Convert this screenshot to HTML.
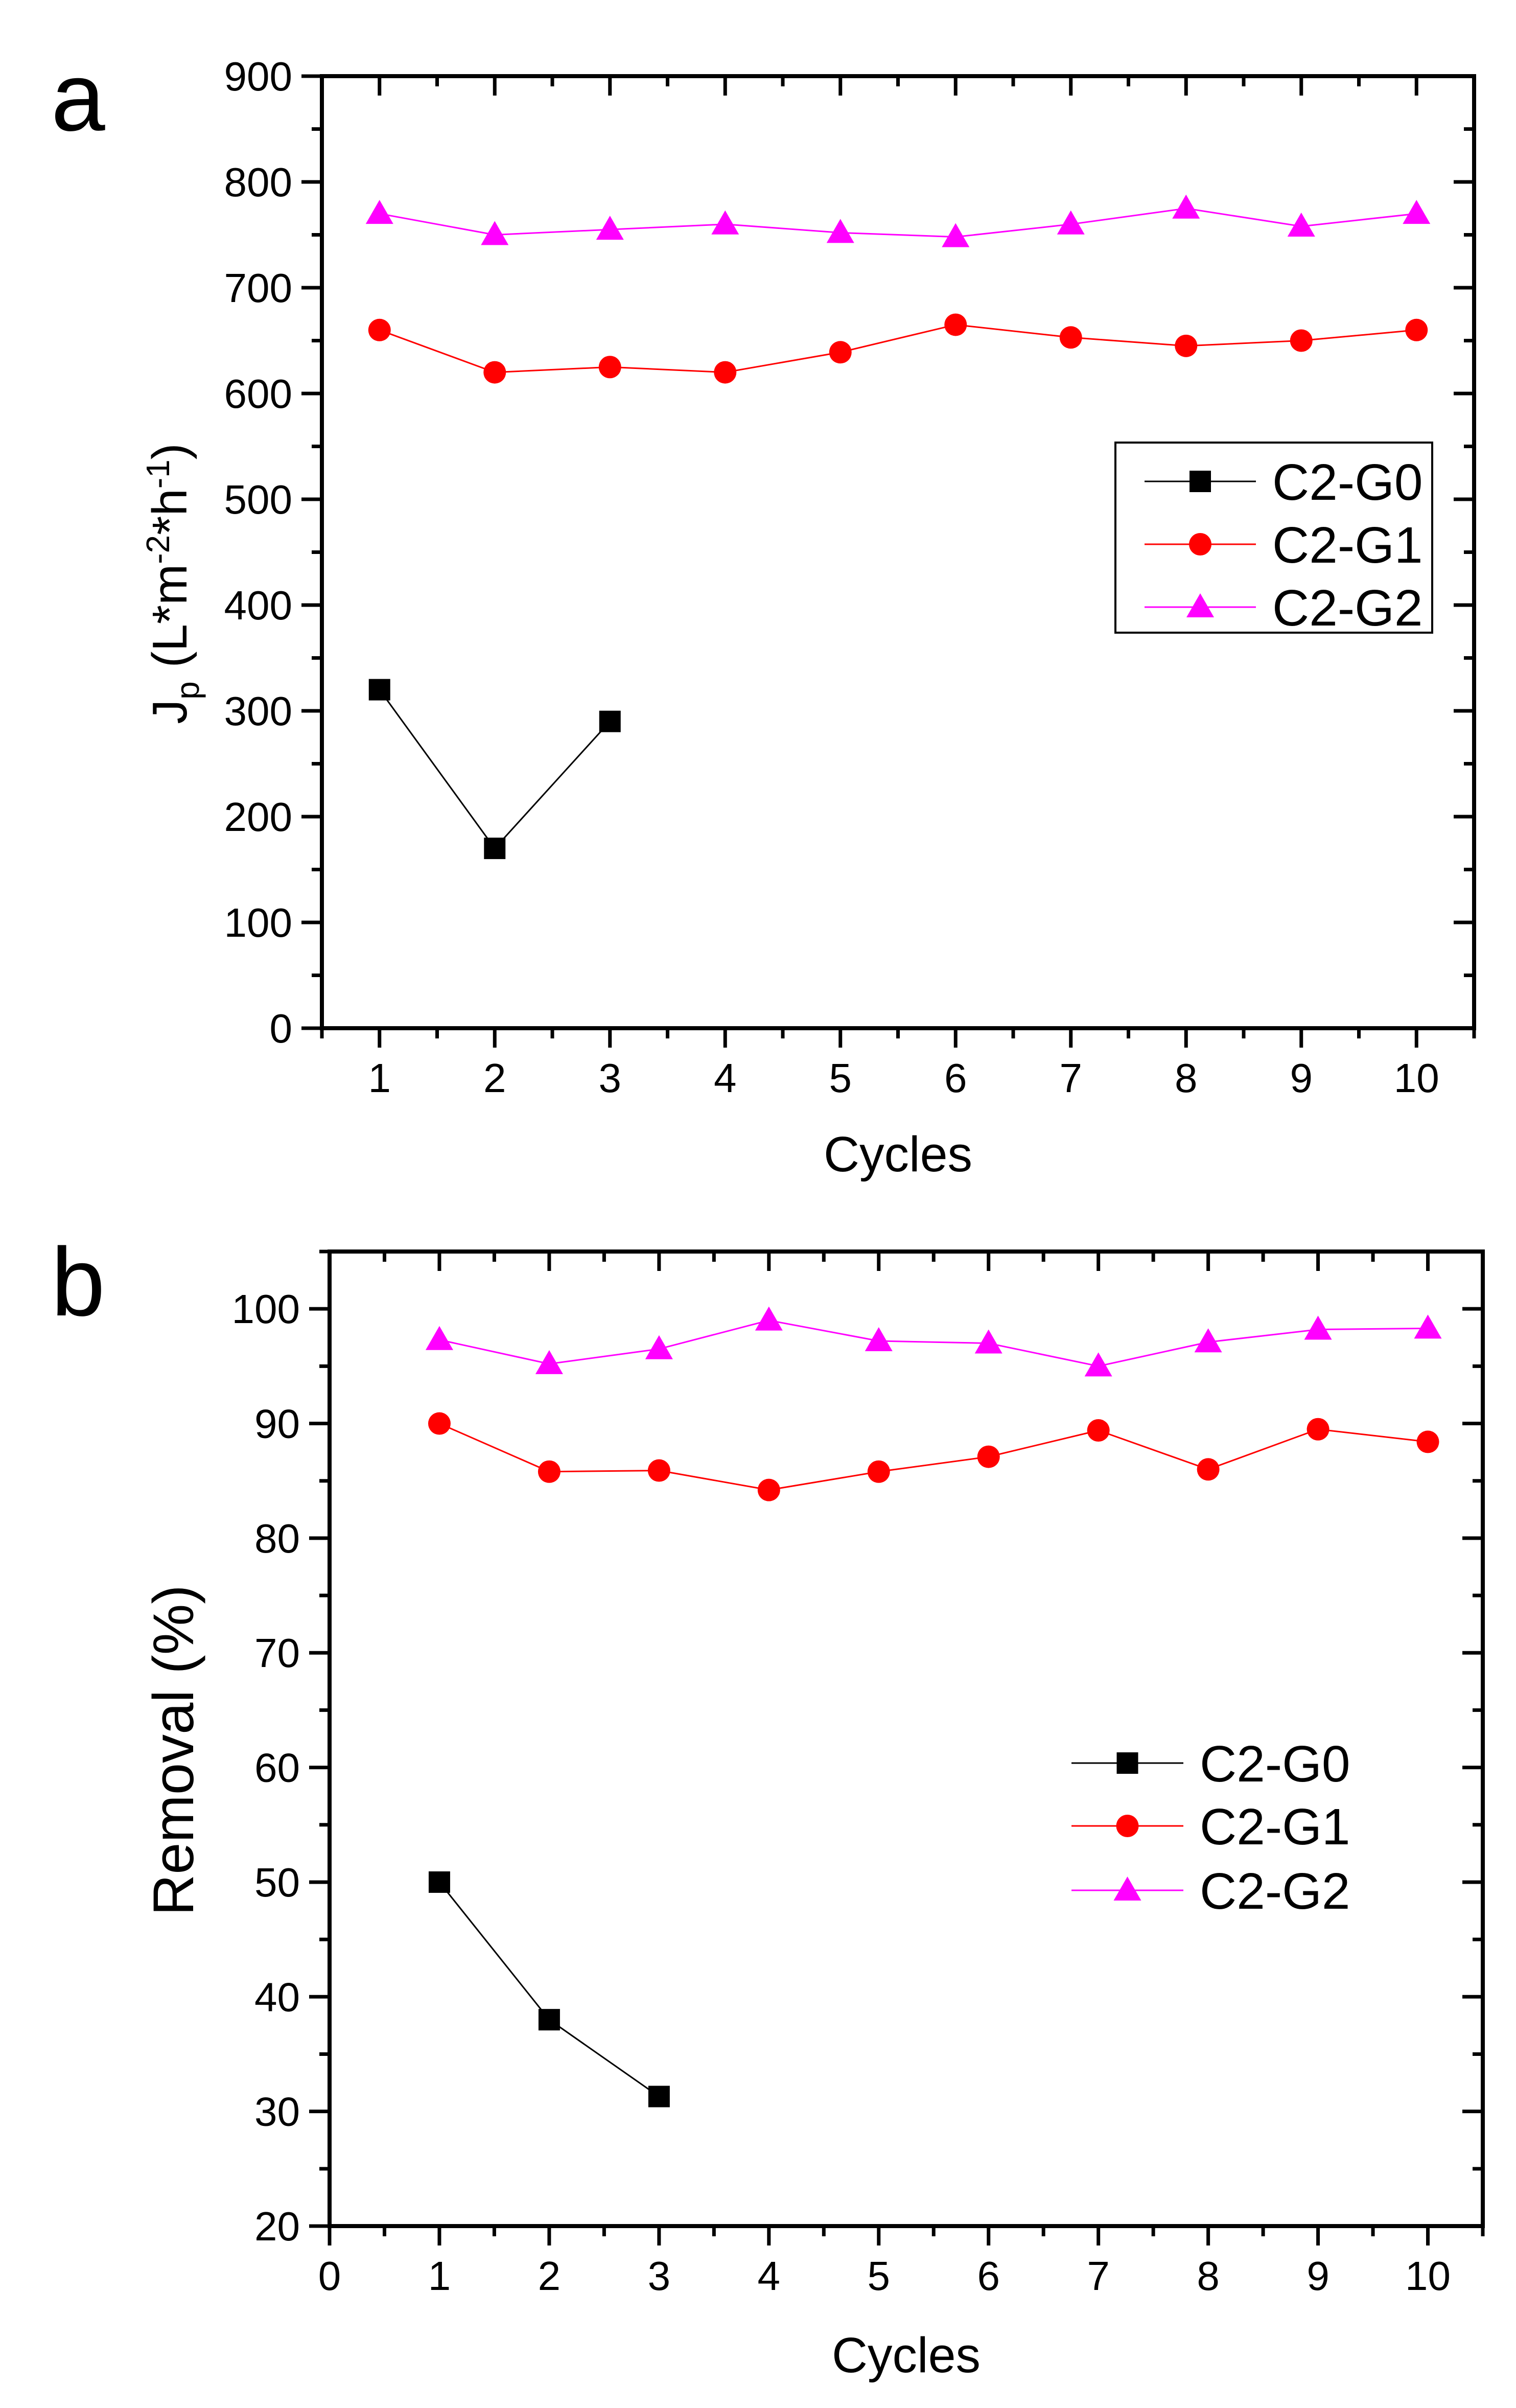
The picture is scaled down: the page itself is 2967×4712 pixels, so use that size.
<!DOCTYPE html>
<html><head><meta charset="utf-8"><style>
html,body{margin:0;padding:0;background:#fff;}
svg{display:block;font-family:"Liberation Sans",Arial,sans-serif;}
</style></head><body>
<svg id="fig" width="2967" height="4712" viewBox="0 0 2967 4712" xmlns="http://www.w3.org/2000/svg">
<rect width="2967" height="4712" fill="#fff"/>
<text x="100" y="255" font-size="190">a</text>
<text x="100" y="2574" font-size="190">b</text>
</svg>
<script>
const cyclesA = [1,2,3,4,5,6,7,8,9,10];
const jpG0 = [320,170,290];
const jpG1 = [660,620,625,620,639,665,653,645,650,660];
const jpG2 = [770,750,755,760,752,748,760,775,758,770];
const yTicksA = [0,100,200,300,400,500,600,700,800,900];
const xTicksA = [1,2,3,4,5,6,7,8,9,10];

const cyclesB = [1,2,3,4,5,6,7,8,9,10];
const remG0 = [50,38,31.3];
const remG1 = [90,85.8,85.9,84.2,85.8,87.1,89.4,86,89.5,88.4];
const remG2 = [97.3,95.2,96.5,99,97.2,97,95,97.1,98.2,98.3];
const yTicksB = [20,30,40,50,60,70,80,90,100];
const xTicksB = [0,1,2,3,4,5,6,7,8,9,10];
const seriesNames = ["C2-G0","C2-G1","C2-G2"];

const NS="http://www.w3.org/2000/svg";
const svg=document.getElementById('fig');
function mk(tag,attrs,parent){const e=document.createElementNS(NS,tag);for(const k in attrs)e.setAttribute(k,attrs[k]);(parent||svg).appendChild(e);return e;}

function panel(p){
  const g=mk('g',{});
  
  
  const sx=v=>p.L+(v-p.xmin)/(p.xmax-p.xmin)*(p.R-p.L);
  const sy=v=>p.B-(v-p.ymin)/(p.ymax-p.ymin)*(p.B-p.T);
  for(let v=p.xmin; v<=p.xmax+1e-9; v+=p.xminor){
    const major=Math.abs(v-Math.round(v))<1e-9 && p.xmajorSet.includes(Math.round(v));
    const len=major?38:20;
    const x=sx(v);
    const t1=mk('line',{x1:x,y1:p.B,x2:x,y2:p.B+len,stroke:'#000','stroke-width':7},g);
    
    
    const t2=mk('line',{x1:x,y1:p.T,x2:x,y2:p.T+len,stroke:'#000','stroke-width':7},g);
    
    
  }
  for(let v=p.ymin; v<=p.ymax+1e-9; v+=p.yminor){
    const major=p.yTicks.some(t=>Math.abs(t-v)<1e-9);
    const len=major?40:20;
    const y=sy(v);
    const t1=mk('line',{x1:p.L-len,y1:y,x2:p.L,y2:y,stroke:'#000','stroke-width':7},g);
    
    
    const t2=mk('line',{x1:p.R-len,y1:y,x2:p.R,y2:y,stroke:'#000','stroke-width':7},g);
    
    
  }
  p.xTicks.forEach(v=>{
    const t=mk('text',{x:sx(v),y:p.B+125,'font-size':80,'text-anchor':'middle'},g);
    t.textContent=v;
    
    
  });
  p.yTicks.forEach(v=>{
    const t=mk('text',{x:p.L-58,y:sy(v)+28,'font-size':80,'text-anchor':'end'},g);
    t.textContent=v;
    
    
  });
  const frame=mk('rect',{x:p.L,y:p.T,width:p.R-p.L,height:p.B-p.T,fill:'none',stroke:'#000','stroke-width':8},g);
  
  
  const xt=mk('text',{x:(p.L+p.R)/2,y:p.xTitleY,'font-size':97,'text-anchor':'middle'},g);
  xt.textContent='Cycles';
  
  
  const yt=mk('text',{x:0,y:0,'font-size':p.yTitleSize,'text-anchor':'middle',transform:`translate(${p.yTitleX},${p.yTitleY}) rotate(-90)`},g);
  yt.innerHTML=p.yTitle;
  
  

  const colors=['#000','#ff0000','#ff00ff'];
  function marker(kind,x,y,parent){
    if(kind===0) return mk('rect',{x:x-21,y:y-21,width:42,height:42,fill:'#000'},parent);
    if(kind===1) return mk('circle',{cx:x,cy:y,r:22,fill:'#ff0000'},parent);
    return mk('polygon',{points:`${x},${y-27} ${x-27},${y+20} ${x+27},${y+20}`,fill:'#ff00ff'},parent);
  }
  p.series.forEach((vals,si)=>{
    const sg=mk('g',{},g);
    
    
    const pts=vals.map((v,i)=>sx(p.cats[i])+','+sy(v)).join(' ');
    mk('polyline',{points:pts,fill:'none',stroke:colors[si],'stroke-width':3},sg);
    vals.forEach((v,i)=>{
      const m=marker(si,sx(p.cats[i]),sy(v),sg);
      
      
    });
  });
  const lg=mk('g',{},g);
  
  
  if(p.legBox) mk('rect',{x:p.legBox[0],y:p.legBox[1],width:p.legBox[2],height:p.legBox[3],fill:'#fff',stroke:'#000','stroke-width':4},lg);
  seriesNames.forEach((n,si)=>{
    const y=p.legY[si];
    const e=mk('g',{},lg);
    
    
    mk('line',{x1:p.legX[0],y1:y,x2:p.legX[1],y2:y,stroke:colors[si],'stroke-width':3},e);
    marker(si,(p.legX[0]+p.legX[1])/2,y,e);
    const t=mk('text',{x:p.legX[1]+32,y:y+36,'font-size':100},e);
    t.textContent=n;
  });
}

panel({id:'flux',L:630,R:2885,T:149,B:2012,xmin:0.5,xmax:10.5,ymin:0,ymax:900,xminor:0.5,yminor:50,
  xmajorSet:xTicksA,xTicks:xTicksA,yTicks:yTicksA,cats:cyclesA,series:[jpG0,jpG1,jpG2],
  xTitleY:2292,yTitleX:365,yTitleY:1142,yTitleSize:96,
  yTitle:'J<tspan font-size="64" dy="24">p</tspan><tspan dy="-24"> (L*m</tspan><tspan font-size="64" dy="-34">-2</tspan><tspan dy="34">*h</tspan><tspan font-size="64" dy="-34">-1</tspan><tspan dy="34">)</tspan>',
  legBox:[2183,866,620,372],legX:[2240,2458],legY:[942,1065,1188]});
panel({id:'removal',L:645,R:2902,T:2449,B:4356,xmin:0,xmax:10.5,ymin:20,ymax:105,xminor:0.5,yminor:5,
  xmajorSet:xTicksB,xTicks:xTicksB,yTicks:yTicksB,cats:cyclesB,series:[remG0,remG1,remG2],
  xTitleY:4642,yTitleX:378,yTitleY:3425,yTitleSize:112,yTitle:'Removal (%)',
  legBox:null,legX:[2097,2316],legY:[3450,3573,3699]});
</script>
</body></html>
